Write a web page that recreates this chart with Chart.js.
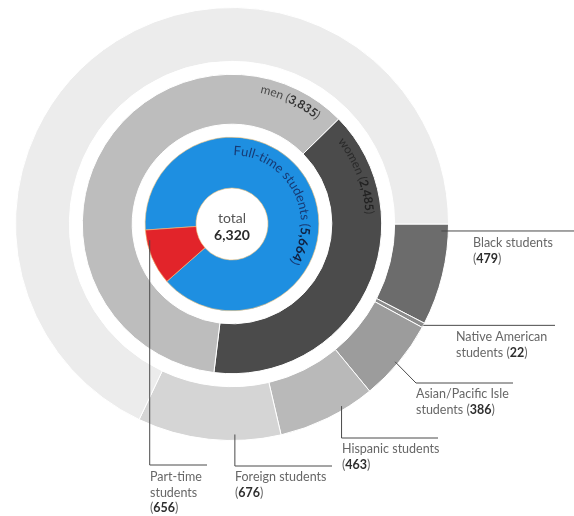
<!DOCTYPE html>
<html lang="en">
<head>
<meta charset="UTF-8">
<title>Students by status, gender and group</title>
<script src="https://cdn.jsdelivr.net/npm/chart.js"></script>
<style>
  html, body { margin: 0; padding: 0; background: #fff; }
  canvas { display: block; }
</style>
</head>
<body>
<canvas id="chart" width="574" height="516"></canvas>
<script>
// data
const total = 6320;
const statusLabels = ['Full-time students', 'Part-time students'];
const statusValues = [5664, 656];
const genderLabels = ['women', 'men'];
const genderValues = [2485, 3835];
const groupLabels = ['Black students', 'Native American students', 'Asian/Pacific Isle students',
  'Hispanic students', 'Foreign students', 'other students'];
const groupValues = [479, 22, 386, 463, 676, 4294];

const statusColors = ['#1e8fe1', '#e2242a'];
const genderColors = ['#4b4b4b', '#bdbdbd'];
const groupColors = ['#6c6c6c', '#8c8c8c', '#9c9c9c', '#b9b9b9', '#d5d5d5', '#ececec'];

const FONT = 'Lato, "Open Sans", sans-serif';
const fmt = v => v.toLocaleString('en-US');

// ring index in chart: 0 outer (groups), 2 middle (gender), 4 inner (status)
const gap = { data: [1], backgroundColor: 'rgba(0,0,0,0)', borderWidth: 0, weight: 13 };

// labels outside with leader lines
const callouts = [
  { ds: 0, i: 0, frac: 0.07, inset: 7, style: 'h', endX: 574, tx: 473, ty: 247, wrap: [2], inline: false },
  { ds: 0, i: 1, frac: 0.5, inset: 0, style: 'h', endX: 555, tx: 456, ty: 341, wrap: [2, 1], inline: true },
  { ds: 0, i: 2, frac: 0.53, inset: 3, style: 'd', elbowX: 416, lineY: 383, endX: 513, tx: 416, ty: 398, wrap: [2, 1], inline: true },
  { ds: 0, i: 3, frac: 0.32, inset: 4, style: 'v', lineY: 438, endX: 438, ty: 453, wrap: [2], inline: false },
  { ds: 0, i: 4, frac: 0.32, inset: 6, style: 'v', lineY: 466, endX: 332, ty: 481, wrap: [2], inline: false },
  { ds: 4, i: 1, frac: 0.81, inset: 3, style: 'v', lineY: 465, endX: 207, ty: 481, wrap: [1, 1], inline: false }
];

function arcText(ctx, cx, cy, r, startDeg, parts, size, colors) {
  let a = startDeg * Math.PI / 180;
  ctx.textAlign = 'center';
  ctx.textBaseline = 'alphabetic';
  parts.forEach(([txt, bold]) => {
    ctx.font = (bold ? 'bold ' : '') + size + 'px ' + FONT;
    ctx.fillStyle = bold ? colors[1] : colors[0];
    for (const ch of txt) {
      const w = ctx.measureText(ch).width;
      const mid = a + (w / 2) / r;
      ctx.save();
      ctx.translate(cx + r * Math.cos(mid), cy + r * Math.sin(mid));
      ctx.rotate(mid + Math.PI / 2);
      ctx.fillText(ch, 0, 0);
      ctx.restore();
      a += w / r;
    }
  });
}

function drawParts(ctx, x, y, parts) {
  ctx.textAlign = 'left';
  parts.forEach(([txt, bold]) => {
    ctx.font = (bold ? 'bold ' : '') + '12.5px ' + FONT;
    ctx.fillStyle = bold ? '#2e2e2e' : '#676767';
    ctx.fillText(txt, x, y);
    x += ctx.measureText(txt).width;
  });
}

const labelsPlugin = {
  id: 'labels',
  afterDatasetsDraw(chart) {
    const ctx = chart.ctx;
    const inner = chart.getDatasetMeta(4).data[0];
    const cx = inner.x, cy = inner.y;
    ctx.save();

    // leader lines + text
    callouts.forEach(c => {
      const arc = chart.getDatasetMeta(c.ds).data[c.i];
      const ang = arc.startAngle + c.frac * (arc.endAngle - arc.startAngle);
      const r = arc.outerRadius - c.inset;
      const sx = cx + r * Math.cos(ang), sy = cy + r * Math.sin(ang);
      const labels = c.ds === 0 ? groupLabels : statusLabels;
      const values = c.ds === 0 ? groupValues : statusValues;

      ctx.strokeStyle = '#4a4a4a';
      ctx.lineWidth = 1;
      ctx.beginPath();
      ctx.moveTo(sx, sy);
      if (c.style === 'h') {
        ctx.lineTo(c.endX, sy);
      } else if (c.style === 'v') {
        ctx.lineTo(sx, c.lineY);
        ctx.lineTo(c.endX, c.lineY);
      } else {
        ctx.lineTo(c.elbowX, c.lineY);
        ctx.lineTo(c.endX, c.lineY);
      }
      ctx.stroke();

      const tx = c.style === 'v' ? Math.round(sx) : c.tx;
      const words = labels[c.i].split(' ');
      const lines = [];
      let k = 0;
      c.wrap.forEach(n => { lines.push([[words.slice(k, k + n).join(' '), false]]); k += n; });
      const val = [['(', false], [fmt(values[c.i]), true], [')', false]];
      if (c.inline) { lines[lines.length - 1][0][0] += ' '; lines[lines.length - 1].push(...val); }
      else lines.push(val);
      lines.forEach((ln, j) => drawParts(ctx, tx, c.ty + j * 15.5, ln));
    });

    // curved ring labels
    arcText(ctx, cx, cy, 134, -78, [[genderLabels[1] + ' (', false], [fmt(genderValues[1]), true], [')', false]],
      12, ['#4a4a4a', '#333']);
    arcText(ctx, cx, cy, 134, -38, [[genderLabels[0] + ' (', false], [fmt(genderValues[0]), true], [')', false]],
      12, ['#2a2a2a', '#222']);
    arcText(ctx, cx, cy, 69, -89, [[statusLabels[0] + ' (', false], [fmt(statusValues[0]), true], [')', false]],
      13, ['#173a74', '#0f1f40']);

    // total in the middle
    ctx.textAlign = 'center';
    ctx.fillStyle = '#555';
    ctx.font = '14px ' + FONT;
    ctx.fillText('total', cx, cy - 1);
    ctx.fillStyle = '#2a2a2a';
    ctx.font = 'bold 14px ' + FONT;
    ctx.fillText(fmt(total), cx, cy + 16);
    ctx.restore();
  }
};

new Chart(document.getElementById('chart'), {
  type: 'doughnut',
  data: {
    datasets: [
      { label: 'groups', data: groupValues, backgroundColor: groupColors, borderColor: '#fff', borderWidth: 1, rotation: 90, weight: 54 },
      gap,
      { label: 'gender', data: genderValues, backgroundColor: genderColors, borderColor: '#fff', borderWidth: 1, rotation: 45.4, weight: 50 },
      Object.assign({}, gap),
      { label: 'status', data: statusValues, backgroundColor: statusColors, borderColor: '#f3c27a', borderWidth: 0.6, rotation: 266, weight: 51 }
    ]
  },
  options: {
    responsive: false,
    animation: false,
    cutout: 36,
    layout: { padding: { left: 15, right: 125, top: 7, bottom: 75 } },
    plugins: { legend: { display: false }, tooltip: { enabled: false } }
  },
  plugins: [labelsPlugin]
});
</script>
</body>
</html>
